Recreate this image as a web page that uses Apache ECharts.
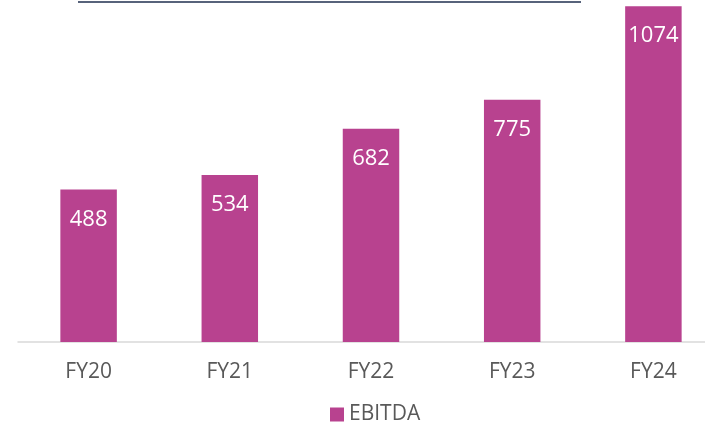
<!DOCTYPE html>
<html><head><meta charset="utf-8">
<script src="https://cdn.jsdelivr.net/npm/echarts@6/dist/echarts.min.js"></script>
<style>html,body{margin:0;padding:0;background:#fff}#c{width:705px;height:425px}</style>
</head><body><div id="c"></div>
<script>
const categories = ['FY20', 'FY21', 'FY22', 'FY23', 'FY24'];
const ebitda = [488, 534, 682, 775, 1074];
const seriesName = 'EBITDA';

const chart = echarts.init(document.getElementById('c'), null, {renderer: 'canvas'});
const font = '"Open Sans", sans-serif';
chart.setOption({
  animation: false,
  backgroundColor: '#fff',
  grid: {left: 18, width: 706, top: -2, bottom: 83, containLabel: false, outerBoundsMode: 'none'},
  legend: {
    data: [seriesName], left: 325, top: 399, itemWidth: 14, itemHeight: 14, itemGap: 6,
    icon: 'rect',
    textStyle: {color: '#595959', fontSize: 21, fontFamily: font}
  },
  xAxis: {
    type: 'category', data: categories,
    axisLine: {show: true, lineStyle: {color: '#D9D9D9', width: 1.5}},
    axisTick: {show: false},
    axisLabel: {color: '#595959', fontSize: 21, fontFamily: font, margin: 20}
  },
  yAxis: {
    type: 'value', min: 0, max: 1100, show: false, splitLine: {show: false}
  },
  series: [{
    name: seriesName, type: 'bar', data: ebitda, barCategoryGap: '60%',
    itemStyle: {color: '#B8428F'},
    label: {show: true, position: 'insideTop', distance: 19, color: '#fff', fontSize: 22, fontFamily: font}
  }],
  graphic: [{
    type: 'line', shape: {x1: 78, y1: 2, x2: 581, y2: 2},
    style: {stroke: '#1F2F4F', lineWidth: 1.5}
  }]
});
</script></body></html>
